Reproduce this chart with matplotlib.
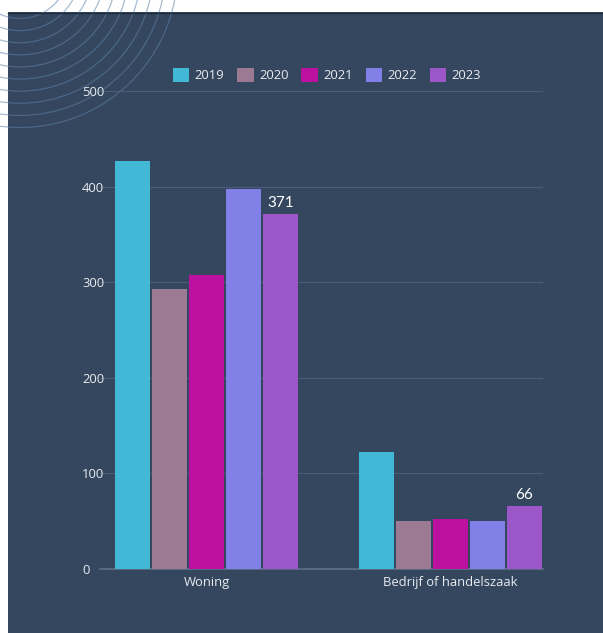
import matplotlib
matplotlib.use("Agg")
import matplotlib.pyplot as plt
from matplotlib.patches import Rectangle, Arc
import numpy as np

categories = ["Woning", "Bedrijf of handelszaak"]
years = ["2019", "2020", "2021", "2022", "2023"]
values = {
    "2019": [427, 122],
    "2020": [293, 50],
    "2021": [308, 52],
    "2022": [397, 50],
    "2023": [371, 66],
}
colors = ["#41b8d6", "#9c7a93", "#bb10a0", "#8080e6", "#9b56c8"]
yticks = [0, 100, 200, 300, 400, 500]

W, H = 603, 633
fig = plt.figure(figsize=(W / 100, H / 100), dpi=100)
fig.patch.set_facecolor("white")

panel_color = "#34475f"
# background panel
bg = fig.add_axes([0, 0, 1, 1])
bg.set_xlim(0, W)
bg.set_ylim(H, 0)
bg.axis("off")
bg.add_patch(Rectangle((8, 12), W - 8, H - 12, facecolor=panel_color, edgecolor="none"))
bg.plot([8, W], [12.5, 12.5], color="#1e2c3d", lw=1)
# decorative arcs
clip = Rectangle((8, 12), W - 8, H - 12, transform=bg.transData)
cx, cy = 20, -30
for r in np.linspace(48.5, 157.5, 10):
    a = Arc((cx, cy), 2 * r, 2 * r, theta1=0, theta2=360, color="#5d82a8",
            lw=0.9, alpha=0.55)
    a.set_clip_path(clip)
    bg.add_patch(a)

# main axes
left, right = 100 / W, 543 / W
bottom = (H - 569) / H
top = (H - 91) / H
ax = fig.add_axes([left, bottom, right - left, top - bottom])
ax.set_facecolor("none")

n = len(years)
step = 37 / 244
width = 35 / 244
x = np.arange(len(categories))
for i, (yr, c) in enumerate(zip(years, colors)):
    offs = (i - (n - 1) / 2) * step
    ax.bar(x + offs, values[yr], width=width, color=c, linewidth=0, zorder=3, label=yr)

# data labels for last series
last = years[-1]
for xi, v in zip(x, values[last]):
    offs = (n - 1) / 2 * step
    ax.annotate(f"{v}", (xi + offs, v), xytext=(0, 3), textcoords="offset points",
                ha="center", va="bottom", color="white", fontsize=11,
                family="Lato")

ax.set_xlim((100 - 206.5) / 244, (543 - 206.5) / 244)
ax.set_ylim(0, 500)
ax.set_yticks(yticks)
ax.set_xticks(x)
ax.set_xticklabels(categories)
ax.grid(axis="y", color="#4a5e77", lw=0.8, zorder=0)
for s in ["top", "right", "left"]:
    ax.spines[s].set_visible(False)
ax.spines["bottom"].set_color("#5f7088")
ax.spines["bottom"].set_linewidth(1.2)
ax.tick_params(axis="both", length=0, colors="#e8ebef", labelsize=9.4)
ax.tick_params(axis="y", pad=13)
ax.tick_params(axis="x", pad=5)
for lab in ax.get_yticklabels():
    lab.set_family("Open Sans")
    lab.set_horizontalalignment("left")
for lab in ax.get_xticklabels():
    lab.set_family("Open Sans")

leg = fig.legend(loc="center", bbox_to_anchor=(327 / W, 1 - 75 / H), ncol=5,
                 frameon=False, handlelength=1.25, handleheight=1.25,
                 handletextpad=0.4, columnspacing=1.0,
                 prop={"family": "Open Sans", "size": 9.4})
for t in leg.get_texts():
    t.set_color("#e8ebef")

fig.savefig("out.png", dpi=100, facecolor=fig.get_facecolor())
